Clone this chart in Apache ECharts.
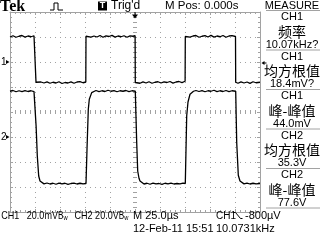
<!DOCTYPE html>
<html><head><meta charset="utf-8">
<script src="https://cdn.jsdelivr.net/npm/echarts@6/dist/echarts.min.js"></script>
<style>html,body{margin:0;padding:0;background:#fff}#c{width:320px;height:240px}</style>
</head><body><div id="c"></div>
<script>
// ---- data ----
const ch1ScaleMv = 20;   // mV per division
const ch2ScaleV = 20;    // V per division
const ch1GroundDiv = 2;  // ground marker positions (divisions from centre)
const ch2GroundDiv = -1;
const trigLevelMv = -0.8;
const trigTimeUs = 0;
// CH1 trace: [time µs, mV]
const ch1Trace = [
 [-125,20.0],[-122,21.0],[-119,19.8],[-116,20.6],[-113,21.2],[-110,19.9],[-107,20.8],[-104,20.2],[-101,21.0],[-99.2,20.4],
 [-99,-16.2],
 [-97,-17.0],[-94,-16.0],[-91,-16.8],[-88,-15.9],[-85,-17.0],[-82,-16.2],[-79,-16.8],[-76,-15.8],[-73,-17.2],[-70,-16.4],[-67,-16.8],[-64,-15.9],[-61,-17.0],[-58,-16.0],[-55,-15.7],[-52,-16.6],[-49.2,-16.0],
 [-49,20.6],
 [-47,21.0],[-44,19.9],[-41,20.8],[-38,20.0],[-35,21.2],[-32,19.8],[-29,20.9],[-26,20.4],[-23,21.3],[-20,19.9],[-17,20.8],[-14,20.2],[-11,21.0],[-8,19.8],[-5,20.9],[-2,20.6],[0.1,21.0],
 [0.3,-16.4],
 [2,-16.0],[5,-17.0],[8,-15.9],[11,-16.8],[14,-15.8],[17,-17.0],[20,-16.2],[23,-15.8],[26,-16.8],[29,-15.9],[32,-16.4],[35,-15.6],[38,-16.9],[41,-16.0],[44,-15.6],[47,-16.5],[50.1,-15.4],
 [50.3,20.4],
 [52,21.0],[55,19.9],[58,20.8],[61,21.2],[64,19.8],[67,20.6],[70,21.1],[73,20.0],[76,21.3],[79,19.9],[82,20.8],[85,20.2],[88,21.2],[91,19.8],[94,20.8],[97,21.1],[100.5,20.4],
 [100.7,-16.2],
 [103,-17.0],[106,-15.9],[109,-16.8],[112,-16.0],[115,-17.1],[118,-15.8],[121,-16.6],[125,-16.2]
];
// CH2 trace: [time µs, V]
const ch2Trace = [
 [-125,36.6],[-122,37.2],[-119,36.2],[-116,37.0],[-113,36.3],[-110,37.1],[-107,36.4],[-104,37.0],[-101,36.3],[-99,36.8],
 [-98.9,8.8],[-97.7,-15.2],[-96.3,-31.2],[-95,-35.2],[-93.5,-36.8],
 [-91,-37.5],[-88,-36.8],[-85,-37.6],[-82,-37.0],[-79,-37.8],[-76,-36.9],[-73,-37.5],[-70,-37.0],[-67,-37.9],[-64,-37.2],[-61,-36.9],[-58,-37.6],[-55,-37.0],[-52,-37.5],[-49,-37.2],
 [-48,-10.0],[-46.7,22.2],[-45.7,30.2],[-43.3,35.5],[-41.5,36.6],
 [-39,37.2],[-36,36.3],[-33,37.0],[-30,36.4],[-27,37.4],[-24,36.6],[-21,37.1],[-18,36.2],[-15,37.0],[-12,36.6],[-9,37.2],[-6,36.3],[-3,37.0],[0.3,36.6],
 [1.7,-4.2],[2.7,-27.2],[4,-33.0],[5,-35.2],[6.5,-36.8],
 [9,-37.6],[12,-37.0],[15,-37.8],[18,-36.9],[21,-37.5],[24,-37.2],[27,-37.9],[30,-37.0],[33,-37.5],[36,-36.9],[39,-37.6],[42,-37.2],[45,-37.5],[48,-36.9],[50.3,-37.2],
 [51.7,16.8],[53,28.0],[55,34.2],[58.5,36.6],
 [61,37.2],[64,36.4],[67,37.1],[70,36.2],[73,37.0],[76,36.6],[79,37.4],[82,36.3],[85,37.0],[88,36.4],[91,37.2],[94,36.3],[97,37.0],[100.7,36.6],
 [101.7,-4.2],[103.3,-30.6],[105,-35.2],[106.5,-36.8],
 [109,-37.5],[112,-36.9],[115,-37.6],[118,-37.0],[121,-37.5],[125,-37.2]
];
const measureChannels = ['CH1','CH1','CH1','CH2','CH2'];
const measureNames = ['频率','均方根值','峰-峰值','均方根值','峰-峰值'];
const measureValues = ['10.07kHz?','18.4mV?','44.0mV','35.3V','77.6V'];
const headerTexts = {brand:'Tek', trig:"Trig'd", mpos:'M Pos: 0.000s', menu:'MEASURE'};
const footer = {ch1:'CH1', ch1Scale:'20.0mV', ch2:'CH2', ch2Scale:'20.0V', time:'M 25.0µs',
  trigSrc:'CH1', trigLvl:'-800µV', date:'12-Feb-11 15:51', freq:'10.0731kHz'};

// ---- chart ----
const chart = echarts.init(document.getElementById('c'), null, {renderer:'canvas'});
const G = '#a2a2a2';
const dotted = {color:G, width:1, type:[1,4]};
function xAx(pos, opts) {
  return Object.assign({type:'value', min:-125, max:125, interval:25, position:pos,
    axisLabel:{show:false}, splitLine:{show:false},
    axisLine:{show:true, onZero:false, lineStyle:{color:G, width:1}},
    axisTick:{show:true, inside:true, length:3, lineStyle:{color:G}},
    minorTick:{show:true, splitNumber:5, length:2, lineStyle:{color:G}}}, opts);
}
function yAx(pos, opts) {
  return Object.assign({type:'value', min:-4, max:4, interval:1, position:pos,
    axisLabel:{show:false}, splitLine:{show:false},
    axisLine:{show:true, onZero:false, lineStyle:{color:G, width:1}},
    axisTick:{show:true, inside:true, length:3, lineStyle:{color:G}},
    minorTick:{show:true, splitNumber:5, length:2, lineStyle:{color:G}}}, opts);
}
const centreLine = {show:true, onZero:true, onZeroAxisIndex:0, lineStyle:{color:'rgba(0,0,0,0)'}};
const centreTick = {show:true, inside:true, length:2, lineStyle:{color:G}};
const option = {
  animation:false,
  backgroundColor:'#fff',
  grid:{left:10, top:12, width:250, height:200, show:false},
  xAxis:[
    xAx('bottom', {splitLine:{show:true, lineStyle:dotted}}),
    xAx('top', {}),
    xAx('bottom', {axisLine:centreLine, axisTick:centreTick}),
    xAx('top', {axisLine:centreLine, axisTick:centreTick})
  ],
  yAxis:[
    yAx('left', {splitLine:{show:true, lineStyle:dotted}}),
    yAx('right', {}),
    yAx('left', {axisLine:centreLine, axisTick:centreTick}),
    yAx('right', {axisLine:centreLine, axisTick:centreTick})
  ],
  series:[
    {type:'line', name:'CH1', xAxisIndex:0, yAxisIndex:0, symbol:'none', silent:true,
     lineStyle:{color:'#000', width:1.3},
     data: ch1Trace.map(p => [p[0], p[1] / ch1ScaleMv + ch1GroundDiv])},
    {type:'line', name:'CH2', xAxisIndex:0, yAxisIndex:0, symbol:'none', silent:true,
     lineStyle:{color:'#000', width:1.3},
     data: ch2Trace.map(p => [p[0], p[1] / ch2ScaleV + ch2GroundDiv])}
  ]
};
chart.setOption(option);

// ---- annotations ----
const F = "'Liberation Sans Narrow','Liberation Sans',sans-serif";
const CJK = "'Noto Sans CJK SC',sans-serif";
function txt(x, y, s, font, extra, sx) {
  const k = sx || 1;
  const el = {type:'text', x:x / k, y:y, silent:true, z:10,
    style:Object.assign({x:0, y:0, text:s, font:font, fill:'#000', textAlign:'left', textVerticalAlign:'middle'}, extra || {})};
  if (sx) el.scaleX = sx;
  return el;
}
function line(pts, color, w) {
  return {type:'polyline', silent:true, z:10, shape:{points:pts}, style:{stroke:color || '#000', lineWidth:w || 1, fill:null}};
}
function poly(pts, color) {
  return {type:'polygon', silent:true, z:10, shape:{points:pts}, style:{fill:color || '#000'}};
}
const px = (t, d) => chart.convertToPixel({xAxisIndex:0, yAxisIndex:0}, [t, d]);
const els = [];
// header
els.push(txt(0, 6.5, headerTexts.brand, "bold 16px 'Liberation Serif',serif"));
els.push(line([[50,10],[54,10],[54,3],[58,3],[58,10],[63,10]]));
els.push({type:'rect', silent:true, z:10, shape:{x:98, y:1.5, width:9, height:9}, style:{fill:'#000'}});
els.push(txt(102.5, 6, 'T', "bold 9px " + F, {fill:'#fff', textAlign:'center'}));
els.push(txt(111, 6, headerTexts.trig, "12px " + F));
els.push(txt(165, 6, headerTexts.mpos, "11.5px " + F));
els.push(txt(292, 6, headerTexts.menu, "11px " + F, {textAlign:'center'}));
// trigger position marker
const tp = px(trigTimeUs, 4);
els.push(line([[tp[0], tp[1]], [tp[0], tp[1] + 3]]));
els.push(poly([[tp[0] - 3, tp[1] + 2.5], [tp[0] + 3, tp[1] + 2.5], [tp[0], tp[1] + 6.5]]));
// channel ground markers
[[ch1GroundDiv, '1'], [ch2GroundDiv, '2']].forEach(function (m) {
  const p = px(-125, m[0]);
  els.push(txt(p[0] - 9, p[1], m[1], "10px " + F));
  els.push(poly([[p[0] - 4, p[1] - 2], [p[0] - 4, p[1] + 2], [p[0] - 0.5, p[1]]]));
});
// trigger level marker at right
const tl = px(125, trigLevelMv / ch1ScaleMv + ch1GroundDiv);
els.push(poly([[tl[0] + 1.5, tl[1]], [tl[0] + 4.5, tl[1] - 2], [tl[0] + 4.5, tl[1] + 2]]));
els.push(line([[tl[0] + 4, tl[1]], [tl[0] + 6.5, tl[1]]]));
// measure panel
const panelCx = 292, pitch = 39.5;
els.push(line([[266, 10.5], [320, 10.5]], G));
for (let k = 0; k < measureNames.length; k++) {
  const y0 = 17 + pitch * k;
  els.push(txt(panelCx, y0, measureChannels[k], "11px " + F, {textAlign:'center'}));
  els.push(txt(panelCx, y0 + 14.5, measureNames[k], "14px " + CJK, {textAlign:'center'}));
  els.push(txt(panelCx, y0 + 27.5, measureValues[k], "11px " + F, {textAlign:'center'}));
  els.push(line([[266, y0 + 33], [320, y0 + 33]], G));
}
// footer
const rich = {n:{font:"11px " + F}, b:{font:"10px " + F}, w:{font:"7px " + F, padding:[4,0,0,0]}};
const S = 0.82;
els.push(txt(1, 216, footer.ch1, "11px " + F, {}, S));
els.push(txt(22, 216, '{n|' + footer.ch1Scale + '}{b|B}{w|w}', "11px " + F, {rich:rich}, S));
els.push(txt(61, 216, footer.ch2, "11px " + F, {}, S));
els.push(txt(78, 216, '{n|' + footer.ch2Scale + '}{b|B}{w|w}', "11px " + F, {rich:rich}, S));
els.push(txt(133, 216, footer.time, "11px " + F));
els.push(txt(216, 216, footer.trigSrc, "10px " + F));
els.push(line([[233, 212.5], [235.5, 212.5], [240.5, 218.5], [242.5, 218.5]]));
els.push(txt(245, 216, footer.trigLvl, "11px " + F));
els.push(txt(133, 229, footer.date, "11px " + F));
els.push(txt(216, 229, footer.freq, "11px " + F));
chart.setOption({graphic:{elements:els}});
</script>
</body></html>
